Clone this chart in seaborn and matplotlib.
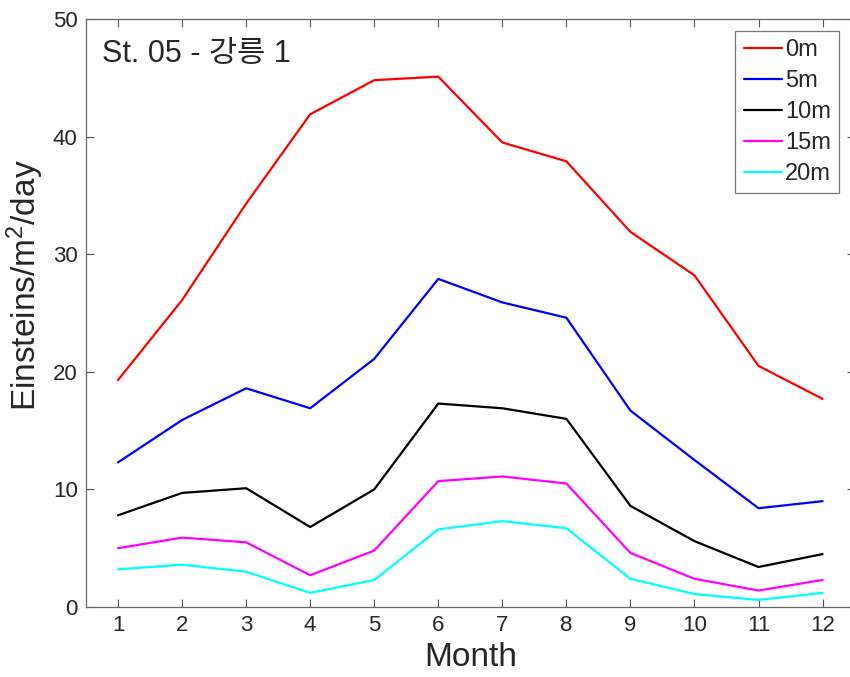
import matplotlib
matplotlib.use("Agg")
import matplotlib.pyplot as plt
import seaborn as sns
import pandas as pd

# valores (Einsteins/m2/day por mes)
meses = list(range(1, 13))
prof_0m = [19.3, 26.1, 34.3, 41.9, 44.8, 45.1, 39.5, 37.9, 31.9, 28.2, 20.5, 17.7]
prof_5m = [12.3, 15.9, 18.6, 16.9, 21.1, 27.9, 25.9, 24.6, 16.7, 12.5, 8.4, 9.0]
prof_10m = [7.8, 9.7, 10.1, 6.8, 10.0, 17.3, 16.9, 16.0, 8.6, 5.6, 3.4, 4.5]
prof_15m = [5.0, 5.9, 5.5, 2.7, 4.8, 10.7, 11.1, 10.5, 4.6, 2.4, 1.4, 2.3]
prof_20m = [3.2, 3.6, 3.0, 1.2, 2.3, 6.6, 7.3, 6.7, 2.4, 1.1, 0.6, 1.2]

etiquetas = ["0m", "5m", "10m", "15m", "20m"]
colores = ["#ff0000", "#0000ff", "#000000", "#ff00ff", "#00ffff"]
series = [prof_0m, prof_5m, prof_10m, prof_15m, prof_20m]

filas = []
for etiqueta, valores in zip(etiquetas, series):
    for m, v in zip(meses, valores):
        filas.append({"Month": m, "valor": v, "prof": etiqueta})
df = pd.DataFrame(filas)

sns.set_style("ticks")
plt.rcParams["font.family"] = ["Liberation Sans", "Noto Sans CJK KR"]
plt.rcParams["mathtext.default"] = "regular"

fig = plt.figure(figsize=(8.5, 6.77), dpi=100)
ax = fig.add_axes([0.1012, 0.1034, 0.9042, 0.8685])

sns.lineplot(data=df, x="Month", y="valor", hue="prof", hue_order=etiquetas,
             palette=colores, linewidth=1.6, ax=ax, legend=False)

ax.set_xlim(0.5, 12.5)
ax.set_ylim(0, 50)
ax.set_xticks(meses)
ax.set_yticks(range(0, 51, 10))
ax.tick_params(direction="in", length=6, width=0.8, labelsize=16,
               top=True, right=True, color="#555555", pad=6)
for s in ax.spines.values():
    s.set_color("#666666")
    s.set_linewidth(0.9)

ax.set_xlabel("Month", fontsize=24, labelpad=4)
ax.set_ylabel("Einsteins/m$^2$/day", fontsize=24)
ax.yaxis.set_label_coords(-0.052, 0.548)

ax.text(0.0204, 0.927, "St. 05 - 강릉 1", transform=ax.transAxes,
        fontsize=22, ha="left", va="baseline")

handles = ax.get_lines()[:len(etiquetas)]
leg = ax.legend(handles, etiquetas, loc="upper right", bbox_to_anchor=(0.98, 0.98),
                borderaxespad=0, fontsize=17, frameon=True, fancybox=False,
                framealpha=1, edgecolor="#777777", handlelength=1.6,
                handletextpad=0.15, labelspacing=0.38, borderpad=0.35)
leg.get_frame().set_linewidth(0.9)

plt.savefig("out.png", dpi=100)
plt.close()
